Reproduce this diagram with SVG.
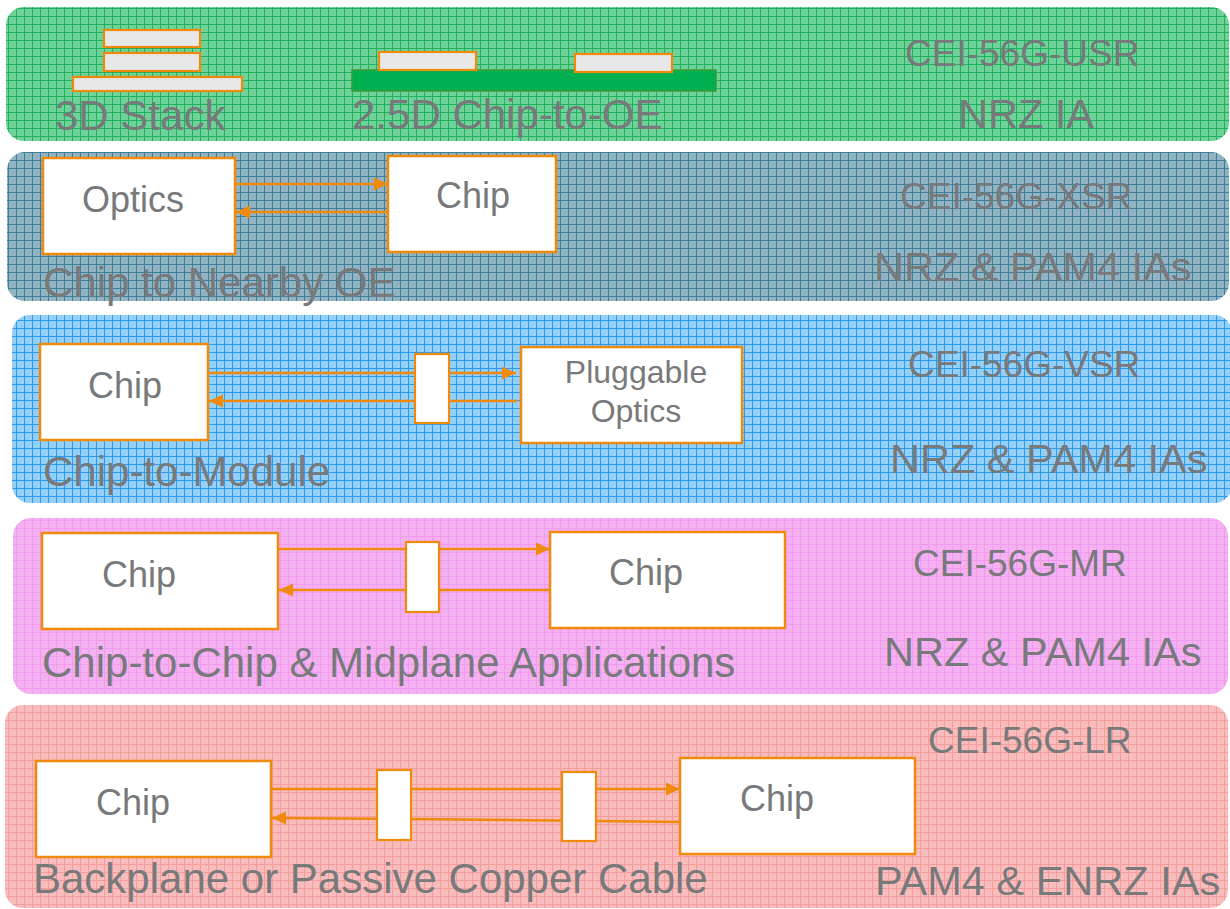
<svg xmlns="http://www.w3.org/2000/svg" width="1230" height="909" viewBox="0 0 1230 909">
<style>
.lbl{font-family:"Liberation Sans",Arial,sans-serif;fill:#77797b;font-size:42px}
.std{font-family:"Liberation Sans",Arial,sans-serif;fill:#77797b;font-size:37px}
.ia{font-family:"Liberation Sans",Arial,sans-serif;fill:#77797b;font-size:41.5px}
.bx{font-family:"Liberation Sans",Arial,sans-serif;fill:#77797b;font-size:36px}
.box{fill:#ffffff;stroke:#ef8a0c;stroke-width:2.5}
.blk{fill:#ffffff;stroke:#ef8a0c;stroke-width:2.2}
.die{fill:#e8e8e8;stroke:#ef8a0c;stroke-width:2.2}
.wire{stroke:#ef8a0c;stroke-width:2.5;fill:none}
.arr{marker-end:url(#ah)}
</style>
<defs>
<marker id="ah" markerUnits="userSpaceOnUse" markerWidth="15" markerHeight="14" refX="14" refY="7" orient="auto"><path d="M0,0.5 L14,7 L0,13.5 Z" fill="#ef8a0c"/></marker>
<pattern id="pg" width="8" height="8" patternUnits="userSpaceOnUse"><rect width="8" height="8" fill="#6ed299"/><path d="M0 0.5H8M0.5 0V8" stroke="#1fb060" stroke-width="1"/></pattern>
<pattern id="ps" width="8" height="8" patternUnits="userSpaceOnUse"><rect width="8" height="8" fill="#92b3c2"/><path d="M0 0.5H8M0.5 0V8" stroke="#3d7f9a" stroke-width="1"/></pattern>
<pattern id="pb" width="8" height="8" patternUnits="userSpaceOnUse"><rect width="8" height="8" fill="#94cff7"/><path d="M0 0.5H8M0.5 0V8" stroke="#2a9bef" stroke-width="1"/></pattern>
<pattern id="pp" width="8" height="8" patternUnits="userSpaceOnUse"><rect width="8" height="8" fill="#f5b0f2"/><path d="M0 0.5H8M0.5 0V8" stroke="#f09af0" stroke-width="1"/></pattern>
<pattern id="pr" width="8" height="8" patternUnits="userSpaceOnUse"><rect width="8" height="8" fill="#f9bcbc"/><path d="M0 0.5H8M0.5 0V8" stroke="#f39d9d" stroke-width="1"/></pattern>
</defs>
<rect width="1230" height="909" fill="#ffffff"/>

<g id="panels">
<rect id="panel-usr" x="6" y="7" width="1223" height="134" rx="18" fill="url(#pg)"/>
<rect id="panel-xsr" x="7" y="152" width="1222" height="149" rx="18" fill="url(#ps)"/>
<rect id="panel-vsr" x="12" y="315" width="1220" height="188" rx="18" fill="url(#pb)"/>
<rect id="panel-mr" x="13" y="518" width="1215" height="176" rx="18" fill="url(#pp)"/>
<rect id="panel-lr" x="5" y="705" width="1223" height="203" rx="18" fill="url(#pr)"/>
</g>

<g id="connectors">
<line class="wire arr" x1="232" y1="184" x2="388" y2="184"/>
<line class="wire arr" x1="388" y1="212" x2="236" y2="212"/>
<line class="wire arr" x1="208" y1="373" x2="516" y2="373"/>
<line class="wire arr" x1="517" y1="401" x2="209" y2="401"/>
<line class="wire arr" x1="278" y1="549" x2="550" y2="549"/>
<line class="wire arr" x1="550" y1="590" x2="279" y2="590"/>
<line class="wire arr" x1="271" y1="789" x2="680" y2="789"/>
<polyline class="wire arr" points="680,822 596,821 411,819 272,818"/>
</g>

<g id="usr">
<g id="stack-3d">
<rect class="die" x="104" y="30" width="96" height="17"/>
<rect class="die" x="104" y="53" width="96" height="18"/>
<rect class="die" x="73" y="77" width="169" height="14"/>
<text class="lbl" x="55" y="130">3D Stack</text>
</g>
<g id="chip-oe-25d">
<rect x="352" y="70" width="364" height="21" fill="#00b050" stroke="#3e9a36" stroke-width="1.5"/>
<rect class="die" x="379" y="52" width="97" height="18"/>
<rect class="die" x="575" y="54" width="97" height="18"/>
<text class="lbl" x="352" y="129">2.5D Chip-to-OE</text>
</g>
<text class="std" x="905" y="66">CEI-56G-USR</text>
<text class="ia" x="958" y="128">NRZ IA</text>
</g>

<g id="xsr">
<g id="xsr-optics"><rect class="box" x="43" y="158" width="192" height="96"/><text class="bx" x="82" y="212">Optics</text></g>
<g id="xsr-chip"><rect class="box" x="388" y="156" width="168" height="96"/><text class="bx" x="436" y="208">Chip</text></g>
<text class="lbl" x="43" y="297">Chip to Nearby OE</text>
<text class="std" x="900" y="209">CEI-56G-XSR</text>
<text class="ia" x="874" y="281">NRZ &amp; PAM4 IAs</text>
</g>

<g id="vsr">
<g id="vsr-chip"><rect class="box" x="40" y="344" width="168" height="96"/><text class="bx" x="88" y="398">Chip</text></g>
<g id="vsr-conn"><rect class="blk" x="415" y="354" width="34" height="69"/></g>
<g id="vsr-optics"><rect class="box" x="521" y="347" width="221" height="96"/>
<text class="bx" x="636" y="383" text-anchor="middle" style="font-size:32px">Pluggable</text>
<text class="bx" x="636" y="422" text-anchor="middle" style="font-size:32px">Optics</text></g>
<text class="lbl" x="43" y="486">Chip-to-Module</text>
<text class="std" x="908" y="377">CEI-56G-VSR</text>
<text class="ia" x="890" y="473">NRZ &amp; PAM4 IAs</text>
</g>

<g id="mr">
<g id="mr-chip-a"><rect class="box" x="42" y="533" width="236" height="96"/><text class="bx" x="102" y="587">Chip</text></g>
<g id="mr-conn"><rect class="blk" x="406" y="542" width="33" height="70"/></g>
<g id="mr-chip-b"><rect class="box" x="550" y="532" width="235" height="96"/><text class="bx" x="609" y="585">Chip</text></g>
<text class="lbl" x="42" y="677">Chip-to-Chip &amp; Midplane Applications</text>
<text class="std" x="913" y="576">CEI-56G-MR</text>
<text class="ia" x="884" y="666">NRZ &amp; PAM4 IAs</text>
</g>

<g id="lr">
<g id="lr-chip-a"><rect class="box" x="36" y="761" width="235" height="96"/><text class="bx" x="96" y="815">Chip</text></g>
<g id="lr-conn-a"><rect class="blk" x="377" y="770" width="34" height="70"/></g>
<g id="lr-conn-b"><rect class="blk" x="562" y="772" width="34" height="69"/></g>
<g id="lr-chip-b"><rect class="box" x="680" y="758" width="235" height="96"/><text class="bx" x="740" y="811">Chip</text></g>
<text class="lbl" x="33" y="893">Backplane or Passive Copper Cable</text>
<text class="std" x="928" y="753">CEI-56G-LR</text>
<text class="ia" x="875" y="895">PAM4 &amp; ENRZ IAs</text>
</g>
</svg>
